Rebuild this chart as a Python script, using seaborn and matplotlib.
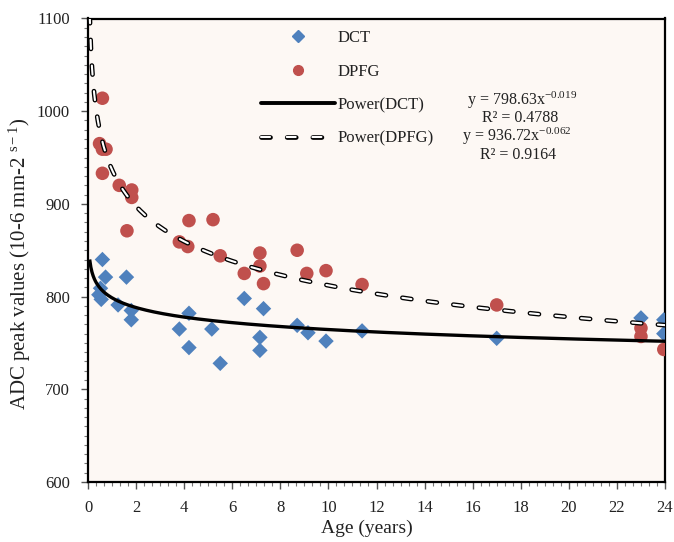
import numpy as np
import pandas as pd
import matplotlib
matplotlib.use("Agg")
import matplotlib.pyplot as plt
from matplotlib.ticker import MultipleLocator
from matplotlib.lines import Line2D
from matplotlib.legend_handler import HandlerTuple
import seaborn as sns

# ---- data ----
dct_age = [0.45, 0.55, 0.52, 0.60, 0.73, 1.25, 1.60, 1.80, 1.80, 3.80, 4.20, 4.20, 5.15,
           5.50, 6.50, 7.15, 7.15, 7.30, 8.70, 9.15, 9.90, 11.40, 17.00, 23.00, 23.95, 23.95]
dct_adc = [802, 797, 809, 840, 821, 791, 821, 785, 775, 765, 782, 745, 765,
           728, 798, 756, 742, 787, 769, 761, 752, 763, 755, 777, 775, 760]

dpfg_age = [0.60, 0.48, 0.60, 0.75, 0.60, 1.30, 1.82, 1.82, 1.62, 3.80, 4.15, 4.20, 5.20,
            5.50, 6.50, 7.15, 7.15, 7.30, 8.70, 9.10, 9.90, 11.40, 17.00, 23.00, 23.00, 23.95]
dpfg_adc = [1014, 965, 959, 959, 933, 920, 915, 907, 871, 859, 854, 882, 883,
            844, 825, 847, 833, 814, 850, 825, 828, 813, 791, 766, 757, 743]

# power trendline coefficients (from the chart's equations)
dct_coef = (798.63, -0.019)
dpfg_coef = (936.72, -0.062)
trend_range = (0.07, 24.0)

x_ticks = list(range(0, 25, 2))
y_ticks = [600, 700, 800, 900, 1000, 1100]

# ---- styling ----
sns.set_theme(style="white")
plt.rcParams['font.family'] = ['Liberation Serif', 'DejaVu Serif']
plt.rcParams['mathtext.fontset'] = 'custom'
plt.rcParams['mathtext.rm'] = 'Liberation Serif'
plt.rcParams['mathtext.it'] = 'Liberation Serif:italic'
plt.rcParams['lines.scale_dashes'] = False

BLUE = "#4F81BD"
RED = "#C0504D"
BG = "#FDF8F4"
TXT = "#222222"

fig = plt.figure(figsize=(6.74, 5.42), dpi=100)
fig.patch.set_facecolor("white")
ax = fig.add_axes([88/674, 1 - 482/542, 577/674, 463.5/542])
ax.set_facecolor(BG)

df = pd.concat([
    pd.DataFrame({"Age": dct_age, "ADC": dct_adc, "Series": "DCT"}),
    pd.DataFrame({"Age": dpfg_age, "ADC": dpfg_adc, "Series": "DPFG"}),
], ignore_index=True)

sns.scatterplot(data=df[df.Series == "DCT"], x="Age", y="ADC", marker="D", s=62,
                color=BLUE, edgecolor="none", ax=ax, zorder=3, legend=False)
sns.scatterplot(data=df[df.Series == "DPFG"], x="Age", y="ADC", marker="o", s=95,
                color=RED, edgecolor="none", ax=ax, zorder=3, legend=False)

xs = np.linspace(trend_range[0], trend_range[1], 500)
y_dct = dct_coef[0] * xs ** dct_coef[1]
y_dpfg = dpfg_coef[0] * xs ** dpfg_coef[1]

ax.plot(xs, y_dct, color="black", lw=2.4, zorder=4, solid_capstyle="butt")
dash = (0, (6.5, 12.0))
ax.plot(xs, y_dpfg, color="black", lw=3.4, linestyle=dash, dash_capstyle="round", zorder=4)
ax.plot(xs, y_dpfg, color="white", lw=1.5, linestyle=dash, dash_capstyle="round", zorder=5)

ax.set_xlim(0, 24)
ax.set_ylim(600, 1100)
ax.set_xticks(x_ticks)
ax.set_yticks(y_ticks)
ax.xaxis.set_minor_locator(MultipleLocator(1/3))
ax.yaxis.set_minor_locator(MultipleLocator(10))
ax.tick_params(axis="both", which="major", direction="out", length=5, width=1,
               color="#555555", labelsize=12, bottom=True, left=True)
ax.tick_params(axis="both", which="minor", direction="out", length=3, width=0.8,
               color="#777777", bottom=True, left=True)
ax.tick_params(axis="x", pad=8)
ax.tick_params(axis="y", pad=8)
for lab in ax.get_xticklabels() + ax.get_yticklabels():
    lab.set_color(TXT)

for side in ["top", "right", "bottom", "left"]:
    ax.spines[side].set_visible(True)
    ax.spines[side].set_color("black")
    ax.spines[side].set_linewidth(1.6)

ax.set_xlabel("Age (years)", fontsize=14, color=TXT)
ax.xaxis.set_label_coords(0.483, -0.082)
ax.set_ylabel(r"ADC peak values (10-6 mm-2 $^{\mathrm{s-1}}$)", fontsize=15, color=TXT)
ax.yaxis.set_label_coords(-0.096, 0.47)

# legend
dpfg_outer = Line2D([], [], color="black", lw=3.4, linestyle=dash, dash_capstyle="round")
dpfg_inner = Line2D([], [], color="white", lw=1.5, linestyle=dash, dash_capstyle="round")
handles = [
    Line2D([], [], marker="D", color=BLUE, linestyle="none", markersize=6),
    Line2D([], [], marker="o", color=RED, linestyle="none", markersize=7),
    Line2D([], [], color="black", lw=2.8),
    (dpfg_outer, dpfg_inner),
]
labels = ["DCT", "DPFG", "Power(DCT)", "Power(DPFG)"]
leg = ax.legend(handles, labels, loc="upper left", bbox_to_anchor=(0.28, 1.0),
                frameon=False, fontsize=12, handlelength=4.4, handletextpad=0.15,
                labelspacing=1.05, borderaxespad=0.3,
                handler_map={tuple: HandlerTuple(ndivide=1, pad=0)})
for t in leg.get_texts():
    t.set_color(TXT)

ax.text(0.752, 0.824, r"y = 798.63x$^{-0.019}$", transform=ax.transAxes,
        ha="center", va="center", fontsize=11.5, color=TXT)
ax.text(0.749, 0.786, "R² = 0.4788", transform=ax.transAxes,
        ha="center", va="center", fontsize=11.5, color=TXT)
ax.text(0.743, 0.745, r"y = 936.72x$^{-0.062}$", transform=ax.transAxes,
        ha="center", va="center", fontsize=11.5, color=TXT)
ax.text(0.745, 0.705, "R² = 0.9164", transform=ax.transAxes,
        ha="center", va="center", fontsize=11.5, color=TXT)

fig.savefig("out.png", dpi=100, facecolor="white")
